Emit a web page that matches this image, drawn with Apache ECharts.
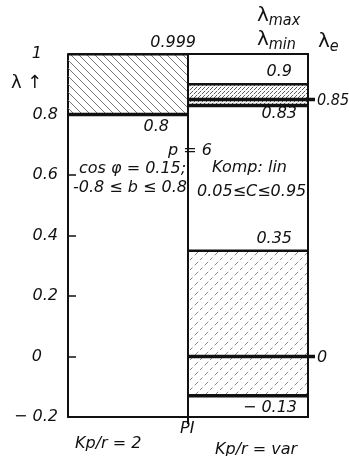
<!DOCTYPE html>
<html><head><meta charset="utf-8">
<script src="https://cdn.jsdelivr.net/npm/echarts@6/dist/echarts.min.js"></script>
<style>html,body{margin:0;padding:0;background:#fff}#c{width:349px;height:456px}</style>
</head><body><div id="c"></div>
<script>
// ---- data ----
const columns = ['Kp/r = 2', 'Kp/r = var'];
const bandColumn = [0, 1, 1];
const lambdaMax = [0.999, 0.9, 0.35];
const lambdaMin = [0.8, 0.83, -0.13];
const lambdaE = [null, 0.85, 0];
const maxLabels = ['0.999', '0.9', '0.35'];
const minLabels = ['0.8', '0.83', '− 0.13'];
const eLabels = ['', '0.85', '0'];
const yTicks = [-0.2, 0, 0.2, 0.4, 0.6, 0.8, 1];
const yTickLabels = ['− 0.2', '0', '0.2', '0.4', '0.6', '0.8', '1'];
const yRange = [-0.2, 1.0];

const FONT = 'DejaVu Sans';
const INK = '#111';
const F16 = 'italic 16px "' + FONT + '"';
const F16C = 'italic 16px "DejaVu Sans Condensed"';

function hatch(dir, color, s, lw, dash) {
  const c = document.createElement('canvas');
  c.width = s; c.height = s;
  const g = c.getContext('2d');
  g.strokeStyle = color; g.lineWidth = lw;
  if (dash) g.setLineDash(dash);
  g.beginPath();
  if (dir === 'back') {
    g.moveTo(-1, -1); g.lineTo(s + 1, s + 1);
    g.moveTo(-1, s - 1); g.lineTo(1, s + 1);
    g.moveTo(s - 1, -1); g.lineTo(s + 1, 1);
  } else {
    g.moveTo(-1, s + 1); g.lineTo(s + 1, -1);
    g.moveTo(-1, 1); g.lineTo(1, -1);
    g.moveTo(s - 1, s + 1); g.lineTo(s + 1, s - 1);
  }
  g.stroke();
  return { image: c, repeat: 'repeat' };
}
const patLeft = hatch('back', '#666', 8, 0.9, null);
const patDense = hatch('fwd', '#555', 4, 1, [3, 1]);
const patLight = hatch('fwd', '#8a8a8a', 10, 1, [5, 3]);

function txt(x, y, text, align, vAlign, font) {
  return { type: 'text', style: { x: x, y: y, text: text, fill: INK, font: font || F16, align: align, verticalAlign: vAlign } };
}
function gtxt(left, top, text) {
  return { type: 'text', left: left, top: top, style: { text: text, fill: INK, font: F16 } };
}
function lam(left, top, sub) {
  return { type: 'text', left: left, top: top, style: { text: '{l|λ}{s|' + sub + '}', fill: INK,
    rich: { l: { font: '20px "DejaVu Sans"' }, s: { font: 'italic 16px "DejaVu Sans Condensed"', padding: [10, 0, 0, 0] } } } };
}

const chart = echarts.init(document.getElementById('c'), null, { renderer: 'canvas' });
chart.setOption({
  animation: false,
  grid: { left: 68, right: 41, top: 54, bottom: 39 },
  xAxis: { type: 'value', min: 0, max: 2,
    axisLine: { show: true, onZero: false, lineStyle: { color: INK, width: 2 } },
    axisTick: { show: false }, axisLabel: { show: false }, splitLine: { show: false } },
  yAxis: { type: 'value', min: yRange[0], max: yRange[1], interval: 0.2,
    axisLine: { show: true, onZero: false, lineStyle: { color: INK, width: 2 } },
    axisTick: { show: true, inside: true, length: 8, lineStyle: { color: INK, width: 1.5 } },
    splitLine: { show: false },
    axisLabel: { margin: 10, color: INK, fontFamily: FONT, fontStyle: 'italic', fontSize: 16,
      formatter: function (v) {
        const i = yTicks.findIndex(t => Math.abs(t - v) < 1e-6);
        const s = i >= 0 ? yTickLabels[i] : '';
        return (s === '1' || s === '0') ? '{p|' + s + '}' : s;
      },
      rich: { p: { padding: [0, 16, 0, 0], fontFamily: FONT, fontStyle: 'italic', fontSize: 16, color: INK } } } },
  series: [
    { type: 'custom', clip: false, z: 3,
      data: bandColumn.map((c, i) => [c, lambdaMin[i], lambdaMax[i]]),
      renderItem: function (params, api) {
        const i = params.dataIndex;
        const col = api.value(0), lo = api.value(1), hi = api.value(2);
        const p0 = api.coord([col, hi]), p1 = api.coord([col + 1, lo]);
        const pat = col === 0 ? patLeft : (hi - lo < 0.2 ? patDense : patLight);
        const ch = [];
        ch.push({ type: 'rect', shape: { x: p0[0], y: p0[1], width: p1[0] - p0[0], height: p1[1] - p0[1] },
          style: { fill: pat } });
        ch.push({ type: 'line', shape: { x1: p0[0], y1: p0[1], x2: p1[0], y2: p0[1] },
          style: { stroke: INK, lineWidth: 2.5 } });
        ch.push({ type: 'line', shape: { x1: p0[0], y1: p1[1], x2: p1[0], y2: p1[1] },
          style: { stroke: INK, lineWidth: 3.5 } });
        const e = lambdaE[i];
        if (e !== null) {
          const pe = api.coord([col + 1, e]);
          ch.push({ type: 'line', shape: { x1: p0[0], y1: pe[1], x2: pe[0] + 7, y2: pe[1] },
            style: { stroke: INK, lineWidth: 3.5 } });
          ch.push(txt(pe[0] + 9, pe[1] + 1, eLabels[i], 'left', 'middle', eLabels[i].length > 2 ? F16C : F16));
        }
        if (col === 0) {
          ch.push(txt(p1[0] + 8, p0[1] - 11, maxLabels[i], 'right', 'middle'));
          ch.push(txt(p1[0] - 19, p1[1] + 12, minLabels[i], 'right', 'middle'));
        } else {
          ch.push(txt(p1[0] - 16, p0[1] - 12, maxLabels[i], 'right', 'middle'));
          ch.push(txt(p1[0] - 11, p1[1] + (i === 1 ? 8 : 12), minLabels[i], 'right', 'middle'));
        }
        return { type: 'group', children: ch };
      } },
    { type: 'custom', clip: false, z: 4,
      data: [[1, yRange[0], yRange[1]]],
      renderItem: function (params, api) {
        const p0 = api.coord([api.value(0), api.value(2)]);
        const p1 = api.coord([2, api.value(1)]);
        return { type: 'group', children: [
          { type: 'rect', shape: { x: p0[0], y: p0[1], width: p1[0] - p0[0], height: p1[1] - p0[1] },
            style: { fill: null, stroke: INK, lineWidth: 2 } },
          { type: 'line', shape: { x1: p0[0], y1: p0[1], x2: p0[0], y2: p1[1] + 7 },
            style: { stroke: INK, lineWidth: 2 } }
        ] };
      } }
  ],
  graphic: [
    { type: 'text', left: 11, top: 74, style: { text: 'λ ↑', fill: INK, font: '18px "DejaVu Sans"' } },
    lam(257, 6, 'max'),
    lam(257, 30, 'min'),
    lam(318, 32, 'e'),
    gtxt(168, 143, 'p = 6'),
    gtxt(79, 161, 'cos φ = 0.15;'),
    gtxt(73, 180, '-0.8 ≤ b ≤ 0.8'),
    gtxt(212, 160, 'Komp: lin'),
    gtxt(197, 184, '0.05≤C≤0.95'),
    gtxt(180, 421, 'PI'),
    gtxt(75, 436, columns[0]),
    gtxt(215, 442, columns[1])
  ]
});
</script></body></html>
